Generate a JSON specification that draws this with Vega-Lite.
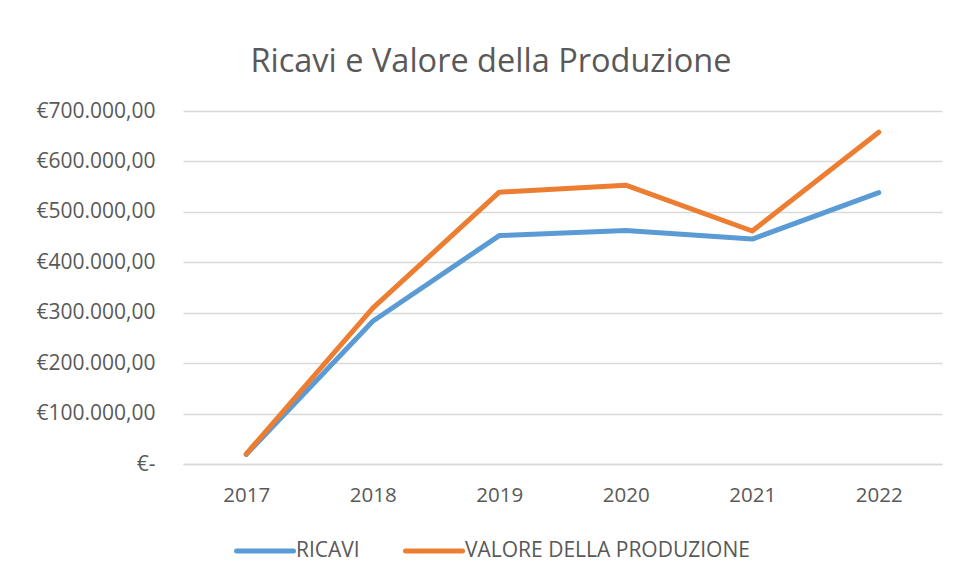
{
  "$schema": "https://vega.github.io/schema/vega-lite/v6.json",
  "width": 759,
  "height": 353,
  "autosize": {"type": "none"},
  "padding": {"left": 183, "top": 111, "right": 16, "bottom": 117},
  "background": "white",
  "title": {
    "text": "Ricavi e Valore della Produzione",
    "anchor": "middle",
    "dx": -71.5,
    "offset": -4,
    "baseline": "alphabetic",
    "font": "Open Sans",
    "fontSize": 32.5,
    "fontWeight": "normal",
    "color": "#595959"
  },
  "data": {
    "values": [
      {"anno": "2017", "serie": "RICAVI", "valore": 19000},
      {"anno": "2018", "serie": "RICAVI", "valore": 283000},
      {"anno": "2019", "serie": "RICAVI", "valore": 453000},
      {"anno": "2020", "serie": "RICAVI", "valore": 463000},
      {"anno": "2021", "serie": "RICAVI", "valore": 446000},
      {"anno": "2022", "serie": "RICAVI", "valore": 538000},
      {"anno": "2017", "serie": "VALORE DELLA PRODUZIONE", "valore": 20000},
      {"anno": "2018", "serie": "VALORE DELLA PRODUZIONE", "valore": 309000},
      {"anno": "2019", "serie": "VALORE DELLA PRODUZIONE", "valore": 539000},
      {"anno": "2020", "serie": "VALORE DELLA PRODUZIONE", "valore": 553000},
      {"anno": "2021", "serie": "VALORE DELLA PRODUZIONE", "valore": 462000},
      {"anno": "2022", "serie": "VALORE DELLA PRODUZIONE", "valore": 658000}
    ]
  },
  "mark": {"type": "line", "strokeWidth": 5, "strokeCap": "round", "strokeJoin": "round"},
  "encoding": {
    "x": {
      "field": "anno",
      "type": "ordinal",
      "scale": {"type": "point", "padding": 0.5},
      "axis": {
        "title": null,
        "labelAngle": 0,
        "ticks": false,
        "grid": false,
        "domain": true,
        "domainColor": "#D9D9D9",
        "domainWidth": 1.5,
        "labelPadding": 21,
        "labelFont": "Open Sans",
        "labelFontSize": 20.5,
        "labelColor": "#595959"
      }
    },
    "y": {
      "field": "valore",
      "type": "quantitative",
      "scale": {"domain": [0, 700000], "nice": false},
      "axis": {
        "title": null,
        "values": [0, 100000, 200000, 300000, 400000, 500000, 600000, 700000],
        "ticks": false,
        "domain": false,
        "grid": true,
        "gridColor": "#D9D9D9",
        "gridWidth": 1.5,
        "labelPadding": 28,
        "labelFont": "Open Sans",
        "labelFontSize": 21,
        "labelColor": "#595959",
        "labelExpr": "datum.value == 0 ? '€-\u00a0\u00a0\u00a0' : '€' + replace(replace(replace(format(datum.value, ',.2f'), ',', '#'), '.', ','), '#', '.')"
      }
    },
    "color": {
      "field": "serie",
      "type": "nominal",
      "scale": {"domain": ["RICAVI", "VALORE DELLA PRODUZIONE"], "range": ["#5B9BD5", "#ED7D31"]},
      "legend": {
        "title": null,
        "orient": "none",
        "direction": "horizontal",
        "legendX": 51,
        "legendY": 409,
        "symbolType": "stroke",
        "symbolSize": 3249,
        "symbolStrokeWidth": 5,
        "labelFont": "Open Sans",
        "labelFontSize": 21,
        "labelColor": "#595959",
        "labelOffset": 0,
        "columnPadding": 35,
        "labelLimit": 500,
        "encode": {"symbols": {"update": {"strokeCap": {"value": "round"}}}}
      }
    }
  },
  "config": {"view": {"stroke": null}}
}
